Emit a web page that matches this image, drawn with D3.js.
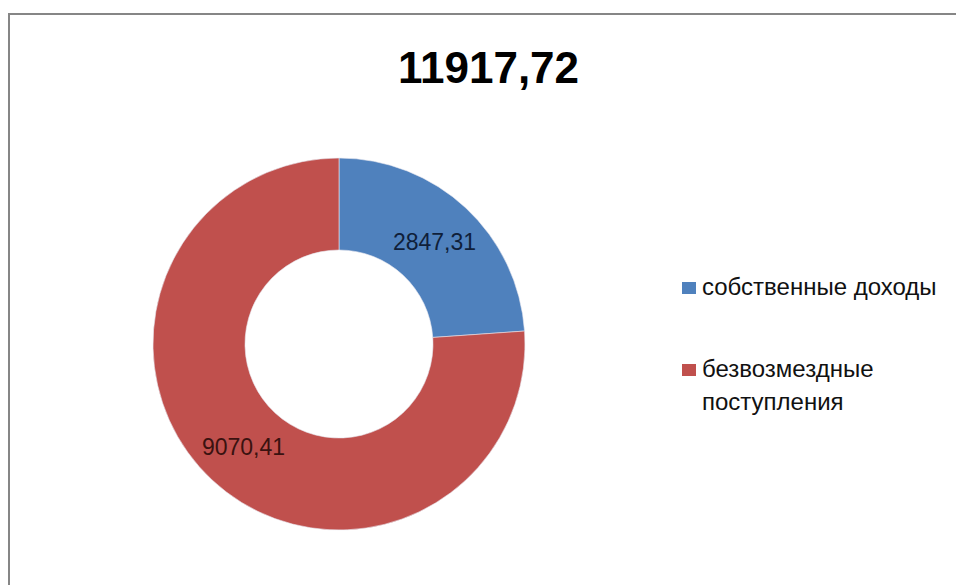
<!DOCTYPE html>
<html lang="ru">
<head>
<meta charset="UTF-8">
<title>Доходы</title>
<script src="https://cdn.jsdelivr.net/npm/d3@7/dist/d3.min.js"></script>
<style>
    body { margin: 0; background: #fff; font-family: "Liberation Sans", Arial, sans-serif; overflow: hidden; }
    svg { display: block; }
</style>
</head>
<body>
<svg id="chart"></svg>
<script>
    // data
    const title = "11917,72";
    const categories = ["собственные доходы", "безвозмездные поступления"];
    const values = [2847.31, 9070.41];
    const valueLabels = ["2847,31", "9070,41"];
    const legendLines = [["собственные доходы"], ["безвозмездные", "поступления"]];
    const colors = ["#4f81bd", "#c0504d"];
    const labelColors = ["#0f1f3a", "#3a1210"];

    const width = 956, height = 585;
    const svg = d3.select("#chart").attr("width", width).attr("height", height);

    // chart frame (runs off right and bottom)
    svg.append("rect")
        .attr("x", 9).attr("y", 14)
        .attr("width", width + 40).attr("height", height + 40)
        .attr("fill", "#fff")
        .attr("stroke", "#868686")
        .attr("stroke-width", 2);

    svg.append("text")
        .attr("x", 488.5).attr("y", 83)
        .attr("text-anchor", "middle")
        .attr("font-size", 44)
        .attr("font-weight", "bold")
        .attr("fill", "#000")
        .text(title);

    const cx = 339, cy = 344, outerR = 186, innerR = 94;

    const pie = d3.pie().sort(null).value(d => d);
    const arc = d3.arc().innerRadius(innerR).outerRadius(outerR);

    const g = svg.append("g").attr("transform", `translate(${cx},${cy})`);
    const arcs = pie(values);

    g.selectAll("path")
        .data(arcs)
        .enter()
        .append("path")
        .attr("d", arc)
        .attr("fill", (d, i) => colors[i])
        .attr("stroke", "#e8e8f0")
        .attr("stroke-width", 0.6);

    g.selectAll("text.val")
        .data(arcs)
        .enter()
        .append("text")
        .attr("class", "val")
        .attr("transform", d => `translate(${arc.centroid(d)})`)
        .attr("text-anchor", "middle")
        .attr("dy", "0.36em")
        .attr("font-size", 23)
        .attr("fill", (d, i) => labelColors[i])
        .text((d, i) => valueLabels[i]);

    // legend
    const legendY = d3.scaleOrdinal().domain(categories).range([295, 377]);
    const legend = svg.append("g");
    const items = legend.selectAll("g")
        .data(categories)
        .enter()
        .append("g")
        .attr("transform", d => `translate(682,${legendY(d)})`);

    items.append("rect")
        .attr("x", 0).attr("y", -13)
        .attr("width", 14).attr("height", 12)
        .attr("fill", (d, i) => colors[i]);

    items.append("text")
        .attr("x", 20)
        .attr("font-size", 24)
        .attr("fill", "#111")
        .selectAll("tspan")
        .data((d, i) => legendLines[i])
        .enter()
        .append("tspan")
        .attr("x", 20)
        .attr("dy", (d, i) => i === 0 ? 0 : 33)
        .text(d => d);
</script>
</body>
</html>
